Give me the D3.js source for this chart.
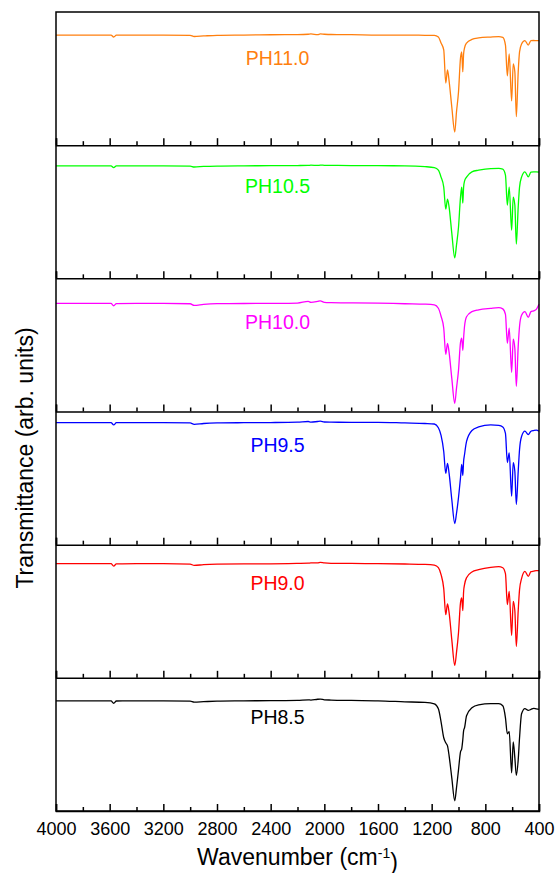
<!DOCTYPE html>
<html>
<head>
<meta charset="utf-8">
<script src="https://cdn.jsdelivr.net/npm/d3@7"></script>
<style>
  body { margin: 0; background: #fff; }
  text { font-family: Arial, "Liberation Sans", sans-serif; }
</style>
</head>
<body>
<div id="chartContainer"></div>
<script>
const width = 557;
const height = 873;
const marginTop = 12;
const marginRight = 18;
const marginBottom = 62;
const marginLeft = 56;

// wavenumber grid (cm-1), shared by all spectra
const wavenumbers = [4000, 3800, 3590, 3570, 3550, 3400, 3200, 3000, 2970, 2900, 2800, 2600, 2400, 2200, 2120, 2100, 2050, 2030, 2000, 1950, 1800, 1600, 1400, 1250, 1180, 1150, 1130, 1110, 1095, 1082, 1070, 1050, 1028, 1015, 1000, 985, 976, 968, 962, 955, 940, 900, 850, 760, 700, 670, 650, 636, 622, 604, 592, 580, 569, 555, 545, 530, 505, 480, 460, 440, 420, 400];

// transmittance (arb. units), one array per sample
const ph110 = [82.7, 82.7, 82.7, 81.2, 82.6, 82.7, 82.7, 82.5, 81.6, 82.0, 82.5, 82.7, 82.9, 83.0, 83.3, 83.5, 83.0, 83.5, 83.3, 83.1, 83.0, 82.7, 82.7, 82.5, 82.4, 81.2, 76.7, 71.5, 46.7, 56.5, 48.2, 28.7, 9.9, 24.9, 39.9, 65.5, 70.0, 55.0, 68.5, 73.0, 76.7, 79.4, 80.5, 81.2, 81.5, 80.9, 75.2, 52.0, 68.5, 33.2, 61.0, 55.0, 21.4, 55.0, 70.0, 76.0, 78.5, 75.2, 78.5, 78.6, 78.5, 78.5];
const ph105 = [84.5, 84.5, 84.5, 83.1, 84.4, 84.5, 84.5, 84.3, 83.6, 84.0, 84.3, 84.5, 84.6, 84.7, 84.8, 85.0, 84.8, 85.0, 84.9, 84.8, 84.7, 84.6, 84.5, 83.9, 83.1, 81.2, 76.0, 68.5, 52.0, 59.5, 53.5, 33.9, 15.4, 24.9, 38.4, 61.0, 68.5, 56.5, 68.5, 73.0, 76.0, 80.0, 81.2, 82.4, 82.5, 82.0, 77.5, 55.0, 68.5, 36.2, 61.0, 55.0, 25.7, 53.5, 68.5, 76.0, 80.0, 76.2, 79.7, 80.0, 80.0, 79.7];
const ph100 = [81.2, 81.2, 81.2, 79.4, 81.0, 81.2, 81.2, 80.9, 79.7, 80.5, 81.0, 81.1, 81.2, 81.4, 82.7, 82.0, 82.7, 83.1, 82.0, 81.8, 81.6, 81.4, 80.9, 80.6, 80.1, 77.5, 71.5, 62.5, 42.9, 51.2, 44.4, 24.9, 6.2, 17.4, 30.9, 51.9, 55.0, 45.9, 55.0, 64.0, 71.1, 75.0, 76.4, 77.5, 78.0, 77.1, 73.0, 51.2, 62.5, 29.4, 54.4, 47.4, 18.9, 48.9, 64.0, 72.2, 75.0, 70.7, 75.0, 75.6, 76.7, 80.5];
const ph95 = [91.7, 91.7, 91.7, 89.9, 91.6, 91.7, 91.7, 91.4, 90.4, 91.0, 91.4, 91.6, 91.7, 92.0, 92.5, 92.0, 92.5, 92.7, 92.1, 92.0, 91.9, 91.9, 91.4, 91.0, 90.6, 87.8, 82.0, 70.0, 53.5, 61.0, 53.5, 33.9, 15.9, 23.4, 35.4, 50.4, 60.2, 52.0, 62.5, 67.7, 77.5, 85.7, 88.4, 90.0, 89.6, 88.4, 83.5, 61.7, 69.0, 36.4, 61.5, 55.0, 30.2, 55.0, 71.5, 81.2, 85.2, 82.7, 85.2, 85.7, 86.0, 85.2];
const ph90 = [85.7, 85.7, 85.7, 83.9, 85.6, 85.7, 85.7, 85.4, 84.4, 85.0, 85.4, 85.6, 85.6, 85.9, 86.1, 86.3, 86.3, 86.7, 86.3, 86.0, 85.9, 85.7, 85.5, 85.2, 84.6, 82.7, 77.5, 67.0, 47.4, 55.5, 49.0, 28.7, 9.4, 18.9, 33.9, 56.5, 60.0, 50.4, 64.7, 70.0, 75.2, 79.5, 81.2, 83.0, 83.5, 82.7, 78.2, 55.0, 64.9, 31.9, 57.4, 50.4, 23.6, 50.4, 66.2, 74.5, 80.0, 76.2, 79.7, 80.1, 80.5, 80.5];
const ph85 = [82.7, 82.7, 82.7, 80.9, 82.6, 82.7, 82.7, 82.5, 81.8, 82.1, 82.5, 82.7, 82.9, 83.1, 83.5, 83.3, 83.9, 84.0, 83.5, 83.3, 83.0, 82.7, 82.0, 81.5, 80.5, 76.7, 67.0, 55.0, 51.2, 48.9, 41.4, 24.9, 7.7, 17.4, 30.9, 44.4, 46.7, 53.5, 60.2, 62.5, 71.5, 77.5, 79.7, 80.6, 80.6, 79.0, 70.0, 58.0, 59.5, 28.7, 51.9, 39.9, 26.8, 38.4, 55.0, 73.0, 76.9, 75.6, 76.3, 77.1, 76.7, 76.3];

const seriesNames = ["PH11.0", "PH10.5", "PH10.0", "PH9.5", "PH9.0", "PH8.5"];
const seriesValues = [ph110, ph105, ph100, ph95, ph90, ph85];
const seriesColors = ["#ff7f0e", "#00ff00", "#ff00ff", "#0000ff", "#ff0000", "#000000"];
const labelDy = [46, 41, 44, 33, 38, 39];

const xTicks = [4000, 3600, 3200, 2800, 2400, 2000, 1600, 1200, 800, 400];
const xMinorTicks = [3800, 3400, 3000, 2600, 2200, 1800, 1400, 1000, 600];

const svg = d3.select("#chartContainer")
    .append("svg")
    .attr("width", width)
    .attr("height", height);

const plotBottom = height - marginBottom;
const panelH = (plotBottom - marginTop) / seriesNames.length;

const xScale = d3.scaleLinear()
    .domain([4000, 400])
    .range([marginLeft, width - marginRight]);

seriesNames.forEach(function(name, i) {
    const top = marginTop + i * panelH;
    const bottom = top + panelH;

    const yScale = d3.scaleLinear()
        .domain([0, 100])
        .range([bottom, top]);

    const line = d3.line()
        .x(d => xScale(d[0]))
        .y(d => yScale(d[1]))
        .curve(d3.curveMonotoneX);

    const pts = wavenumbers.map((w, j) => [w, seriesValues[i][j]]);

    svg.append("path")
        .datum(pts)
        .attr("fill", "none")
        .attr("stroke", seriesColors[i])
        .attr("stroke-width", 1.3)
        .attr("stroke-linejoin", "round")
        .attr("d", line);

    svg.append("text")
        .attr("x", (xScale(4000) + xScale(400)) / 2 - 20)
        .attr("y", top + labelDy[i] + 7)
        .attr("text-anchor", "middle")
        .attr("fill", seriesColors[i])
        .style("font-size", "19.5px")
        .text(name);

    // minor ticks
    svg.append("g")
        .attr("transform", `translate(0, ${bottom})`)
        .call(d3.axisBottom(xScale).tickValues(xMinorTicks).tickSize(-4).tickFormat(""))
        .call(g => g.select(".domain").remove())
        .call(g => g.selectAll("line").attr("stroke", "#000").attr("stroke-width", 1.5));

    // major ticks
    const axis = svg.append("g")
        .attr("transform", `translate(0, ${bottom})`)
        .call(d3.axisBottom(xScale).tickValues(xTicks).tickSize(-7).tickPadding(11)
            .tickFormat(i == seriesNames.length - 1 ? d3.format("d") : ""));
    axis.select(".domain").attr("stroke", "#000").attr("stroke-width", 1.5);
    axis.selectAll("line").attr("stroke", "#000").attr("stroke-width", 1.5);
    axis.selectAll("text")
        .attr("fill", "#000")
        .style("font-size", "18px")
        .style("font-family", "Arial, 'Liberation Sans', sans-serif");
});

// outer frame
svg.append("rect")
    .attr("x", marginLeft)
    .attr("y", marginTop)
    .attr("width", width - marginRight - marginLeft)
    .attr("height", plotBottom - marginTop)
    .attr("fill", "none")
    .attr("stroke", "#000")
    .attr("stroke-width", 1.5);

const xTitle = svg.append("text")
    .attr("x", (xScale(4000) + xScale(400)) / 2)
    .attr("y", height - 8)
    .attr("text-anchor", "middle")
    .style("font-size", "23px");
xTitle.append("tspan").text("Wavenumber (cm");
xTitle.append("tspan").attr("dy", "-0.5em").style("font-size", "14px").text("-1");
xTitle.append("tspan").attr("dy", "0.5em").text(")");

svg.append("text")
    .attr("transform", "rotate(-90)")
    .attr("x", -458)
    .attr("y", 33)
    .attr("text-anchor", "middle")
    .style("font-size", "23px")
    .text("Transmittance (arb. units)");
</script>
</body>
</html>
